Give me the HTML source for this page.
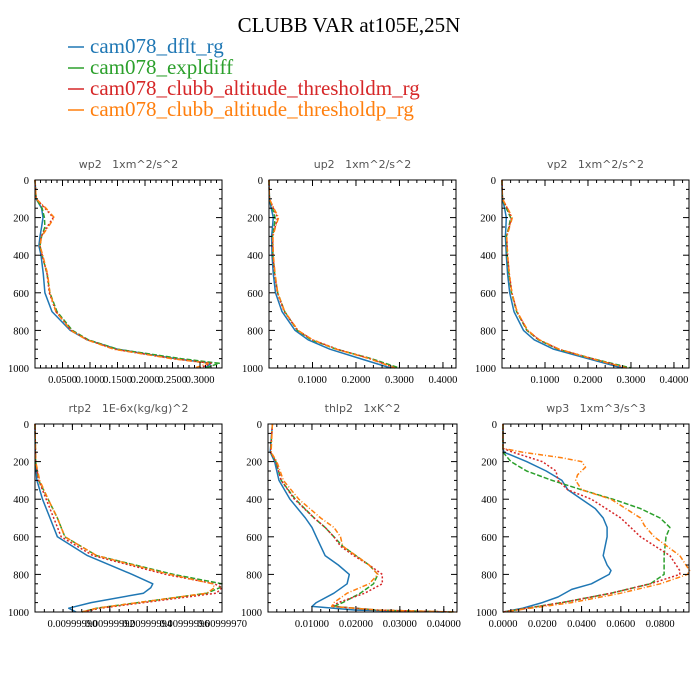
<!DOCTYPE html>
<html><head><meta charset="utf-8">
<style>
html,body{margin:0;padding:0;background:#fff;}
svg{display:block;}
.ttl{font-family:"Liberation Serif",serif;}
.ptitle{font-family:"DejaVu Sans","Liberation Sans",sans-serif;font-size:11px;fill:#555;white-space:pre;}
.tick{font-family:"Liberation Serif",serif;font-size:10.5px;fill:#000;}
</style></head>
<body>
<svg id="chart" width="700" height="700" viewBox="0 0 700 700" xmlns="http://www.w3.org/2000/svg">
<rect width="700" height="700" fill="#fff"/>
<text class="ttl" x="349" y="32" font-size="21" text-anchor="middle">CLUBB VAR at105E,25N</text>
<g>
 <g><line x1="68" y1="47" x2="84" y2="47" stroke="#1f77b4" stroke-width="1.5"/><text class="ttl" x="90" y="53" font-size="21" fill="#1f77b4">cam078_dflt_rg</text></g>
 <g><line x1="68" y1="68" x2="84" y2="68" stroke="#2ca02c" stroke-width="1.5"/><text class="ttl" x="90" y="74" font-size="21" fill="#2ca02c">cam078_expldiff</text></g>
 <g><line x1="68" y1="89" x2="84" y2="89" stroke="#d62728" stroke-width="1.5"/><text class="ttl" x="90" y="95" font-size="21" fill="#d62728">cam078_clubb_altitude_thresholdm_rg</text></g>
 <g><line x1="68" y1="110" x2="84" y2="110" stroke="#ff7f0e" stroke-width="1.5"/><text class="ttl" x="90" y="116" font-size="21" fill="#ff7f0e">cam078_clubb_altitude_thresholdp_rg</text></g>
</g>
</svg>
<script>
// ---- data ----
const yTicks = [0,200,400,600,800,1000];
// wp2
const wp2Lev = [0,100,150,200,250,300,350,400,500,600,700,800,850,900,950,975,1000];
const wp2Blue = [0,0.002,0.012,0.0145,0.012,0.009,0.007,0.011,0.015,0.018,0.031,0.064,0.095,0.15,0.255,0.32,0.31];
const wp2Green = [0,0.002,0.013,0.017,0.018,0.012,0.009,0.013,0.022,0.027,0.04,0.068,0.097,0.15,0.265,0.335,0.31];
const wp2Red = [0,0.002,0.018,0.033,0.022,0.011,0.009,0.013,0.022,0.026,0.038,0.066,0.095,0.145,0.25,0.32,0.30];
const wp2Orange = [0,0.002,0.02,0.035,0.024,0.012,0.009,0.014,0.023,0.027,0.038,0.065,0.094,0.143,0.248,0.315,0.29];
const wp2Ticks = [0.05,0.1,0.15,0.2,0.25,0.3];
const wp2TickLabels = ["0.0500","0.1000","0.1500","0.2000","0.2500","0.3000"];
// up2
const up2Lev = [0,100,150,200,250,300,400,500,600,700,800,850,900,950,1000];
const up2Blue = [0,0.001,0.005,0.01,0.008,0.006,0.007,0.01,0.015,0.03,0.06,0.09,0.14,0.21,0.28];
const up2Green = [0,0.001,0.008,0.014,0.012,0.008,0.009,0.013,0.02,0.036,0.065,0.097,0.155,0.235,0.30];
const up2Red = [0,0.001,0.01,0.02,0.014,0.008,0.009,0.013,0.019,0.035,0.066,0.1,0.157,0.232,0.29];
const up2Orange = [0,0.001,0.011,0.022,0.015,0.009,0.01,0.014,0.02,0.036,0.067,0.1,0.155,0.23,0.29];
const up2Ticks = [0.1,0.2,0.3,0.4];
const up2TickLabels = ["0.1000","0.2000","0.3000","0.4000"];
// vp2
const vp2Lev = [0,100,150,200,250,300,400,500,600,700,800,850,900,950,1000];
const vp2Blue = [0,0.001,0.006,0.01,0.009,0.008,0.01,0.013,0.018,0.028,0.05,0.075,0.12,0.2,0.28];
const vp2Green = [0,0.001,0.01,0.02,0.016,0.01,0.012,0.016,0.022,0.034,0.058,0.085,0.13,0.21,0.3];
const vp2Red = [0,0.001,0.012,0.022,0.017,0.011,0.013,0.017,0.023,0.035,0.059,0.086,0.132,0.21,0.29];
const vp2Orange = [0,0.001,0.013,0.024,0.018,0.011,0.013,0.017,0.023,0.035,0.06,0.087,0.133,0.208,0.29];
const vp2Ticks = [0.1,0.2,0.3,0.4];
const vp2TickLabels = ["0.1000","0.2000","0.3000","0.4000"];
// rtp2 (relative units)
const rtp2Lev = [0,200,300,400,500,600,700,800,850,870,900,950,980,1000];
const rtp2Blue = [0,0.002,0.01,0.04,0.08,0.12,0.28,0.52,0.63,0.62,0.58,0.3,0.18,0.22];
const rtp2Green = [0,0.003,0.02,0.07,0.12,0.16,0.33,0.74,1.0,0.99,0.92,0.55,0.33,0.25];
const rtp2Red = [0,0.003,0.02,0.06,0.1,0.14,0.31,0.7,0.96,1.0,0.97,0.58,0.35,0.25];
const rtp2Orange = [0,0.004,0.025,0.07,0.12,0.16,0.33,0.72,0.95,0.96,0.92,0.55,0.33,0.25];
const rtp2Ticks = [0.2,0.4,0.6,0.8,1.0];
const rtp2TickLabels = ["0.00999990","0.00999992","0.00999994","0.00999996","0.00999970"];
// thlp2
const thlp2Lev = [0,150,200,300,400,500,550,600,650,700,750,800,850,900,950,970,990,1000];
const thlp2Blue = [0.001,0.0005,0.0015,0.0025,0.005,0.0085,0.01,0.011,0.012,0.013,0.016,0.0185,0.018,0.015,0.011,0.01,0.02,0.04];
const thlp2Green = [0.001,0.0006,0.0018,0.003,0.0062,0.0105,0.013,0.015,0.017,0.02,0.023,0.025,0.024,0.021,0.017,0.015,0.025,0.042];
const thlp2Red = [0.001,0.0006,0.0018,0.003,0.006,0.0105,0.013,0.015,0.0165,0.0195,0.023,0.026,0.026,0.022,0.016,0.0145,0.025,0.042];
const thlp2Orange = [0.001,0.0007,0.002,0.0035,0.007,0.012,0.015,0.0165,0.017,0.02,0.023,0.025,0.023,0.018,0.015,0.0145,0.025,0.043];
const thlp2Ticks = [0.01,0.02,0.03,0.04];
const thlp2TickLabels = ["0.01000","0.02000","0.03000","0.04000"];
// wp3
const wp3BlueLev = [0,130,150,200,250,300,350,400,450,500,550,600,700,750,780,800,850,880,920,950,980,1000];
const wp3Blue = [0,0,0.0005,0.012,0.022,0.03,0.033,0.04,0.047,0.051,0.053,0.053,0.051,0.053,0.055,0.054,0.045,0.035,0.028,0.02,0.01,0];
const wp3RedLev = [0,130,150,200,250,300,350,400,500,600,700,780,800,850,900,950,1000];
const wp3Red = [0,0,0.005,0.02,0.027,0.028,0.033,0.045,0.06,0.07,0.085,0.09,0.09,0.075,0.055,0.03,0];
const wp3GreenLev = [0,130,150,200,250,300,350,400,450,500,550,600,700,800,850,900,950,1000];
const wp3Green = [0,0,0,0.004,0.012,0.025,0.04,0.056,0.07,0.08,0.085,0.083,0.082,0.082,0.075,0.055,0.03,0];
const wp3OrangeLev = [0,130,150,180,200,230,270,300,350,400,500,540,600,700,780,800,850,900,950,1000];
const wp3Orange = [0,0,0.01,0.03,0.04,0.042,0.038,0.037,0.04,0.055,0.07,0.072,0.077,0.09,0.095,0.094,0.08,0.06,0.035,0];
const wp3Ticks = [0,0.02,0.04,0.06,0.08];
const wp3TickLabels = ["0.0000","0.0200","0.0400","0.0600","0.0800"];

const NS = "http://www.w3.org/2000/svg";
const svgEl = document.getElementById('chart');
const COLORS = {blue:"#1f77b4",green:"#2ca02c",red:"#d62728",orange:"#ff7f0e"};
const DASH = {blue:"",green:"5,2",red:"2,2",orange:"5,2,1,2"};

function mk(tag, attrs, parent){
  const e = document.createElementNS(NS, tag);
  for (const k in attrs) e.setAttribute(k, attrs[k]);
  parent.appendChild(e);
  return e;
}

function panel(key, title, box, xmax, ticks, tickLabels, minorStep, series, wideLabels){
  const g = mk('g', {}, svgEl);
  
  
  const xs = v => box.x0 + (v / xmax) * (box.x1 - box.x0);
  const ys = p => box.y0 + (p / 1000) * (box.y1 - box.y0);
  const t = mk('text', {x:(box.x0+box.x1)/2, y:box.y0-12, 'text-anchor':'middle', class:'ptitle'}, g);
  t.textContent = title;
  
  
  const cg = mk('g', {}, g);
  for (const s of series){
    const pts = s.vals.map((v,i)=> xs(v).toFixed(1)+','+ys(s.lev[i]).toFixed(1)).join(' ');
    const pl = mk('polyline', {points:pts, fill:'none', stroke:COLORS[s.c], 'stroke-width':1.5, 'stroke-dasharray':DASH[s.c], 'stroke-linejoin':'round'}, cg);
    
    
  }
  const fr = mk('rect', {x:box.x0, y:box.y0, width:box.x1-box.x0, height:box.y1-box.y0, fill:'none', stroke:'#000', 'stroke-width':1}, g);
  
  
  const tk = mk('g', {stroke:'#000','stroke-width':1}, g);
  for (let p=0;p<=1000;p+=50){
    const major = p % 200 === 0;
    const L = major ? 6 : 3;
    const y = ys(p);
    mk('line', {x1:box.x0, y1:y, x2:box.x0+L, y2:y}, tk);
    mk('line', {x1:box.x1, y1:y, x2:box.x1-L, y2:y}, tk);
  }
  for (const p of yTicks){
    const tl = mk('text', {x:box.x0-6, y:ys(p)+4, 'text-anchor':'end', class:'tick'}, g);
    tl.textContent = p;
    
    
  }
  for (let v=0; v<=xmax+1e-9; v+=minorStep){
    const x = xs(v);
    mk('line', {x1:x, y1:box.y1, x2:x, y2:box.y1-3}, tk);
    mk('line', {x1:x, y1:box.y0, x2:x, y2:box.y0+3}, tk);
  }
  ticks.forEach((v,i)=>{
    const x = xs(v);
    mk('line', {x1:x, y1:box.y1, x2:x, y2:box.y1-6}, tk);
    mk('line', {x1:x, y1:box.y0, x2:x, y2:box.y0+6}, tk);
    const tl = mk('text', {x:x, y:box.y1+15, 'text-anchor':'middle', class:'tick'}, g);
    if (wideLabels) tl.setAttribute('font-size','10');
    tl.textContent = tickLabels[i];
    
    
  });
}

const topRow = {y0:180, y1:368}, botRow = {y0:424, y1:612};
panel('wp2', 'wp2   1xm^2/s^2', {x0:35,x1:222,...topRow}, 0.34, wp2Ticks, wp2TickLabels, 0.01,
 [{c:'blue',lev:wp2Lev,vals:wp2Blue},{c:'green',lev:wp2Lev,vals:wp2Green},{c:'red',lev:wp2Lev,vals:wp2Red},{c:'orange',lev:wp2Lev,vals:wp2Orange}]);
panel('up2', 'up2   1xm^2/s^2', {x0:269,x1:456,...topRow}, 0.43, up2Ticks, up2TickLabels, 0.02,
 [{c:'blue',lev:up2Lev,vals:up2Blue},{c:'green',lev:up2Lev,vals:up2Green},{c:'red',lev:up2Lev,vals:up2Red},{c:'orange',lev:up2Lev,vals:up2Orange}]);
panel('vp2', 'vp2   1xm^2/s^2', {x0:502,x1:689,...topRow}, 0.435, vp2Ticks, vp2TickLabels, 0.02,
 [{c:'blue',lev:vp2Lev,vals:vp2Blue},{c:'green',lev:vp2Lev,vals:vp2Green},{c:'red',lev:vp2Lev,vals:vp2Red},{c:'orange',lev:vp2Lev,vals:vp2Orange}]);
panel('rtp2', 'rtp2   1E-6x(kg/kg)^2', {x0:35,x1:222,...botRow}, 1.0, rtp2Ticks, rtp2TickLabels, 0.05,
 [{c:'blue',lev:rtp2Lev,vals:rtp2Blue},{c:'green',lev:rtp2Lev,vals:rtp2Green},{c:'red',lev:rtp2Lev,vals:rtp2Red},{c:'orange',lev:rtp2Lev,vals:rtp2Orange}], true);
panel('thlp2', 'thlp2   1xK^2', {x0:268,x1:457,...botRow}, 0.043, thlp2Ticks, thlp2TickLabels, 0.002,
 [{c:'blue',lev:thlp2Lev,vals:thlp2Blue},{c:'green',lev:thlp2Lev,vals:thlp2Green},{c:'red',lev:thlp2Lev,vals:thlp2Red},{c:'orange',lev:thlp2Lev,vals:thlp2Orange}]);
panel('wp3', 'wp3   1xm^3/s^3', {x0:503,x1:689,...botRow}, 0.0947, wp3Ticks, wp3TickLabels, 0.004,
 [{c:'blue',lev:wp3BlueLev,vals:wp3Blue},{c:'green',lev:wp3GreenLev,vals:wp3Green},{c:'red',lev:wp3RedLev,vals:wp3Red},{c:'orange',lev:wp3OrangeLev,vals:wp3Orange}]);
</script>
</body></html>
